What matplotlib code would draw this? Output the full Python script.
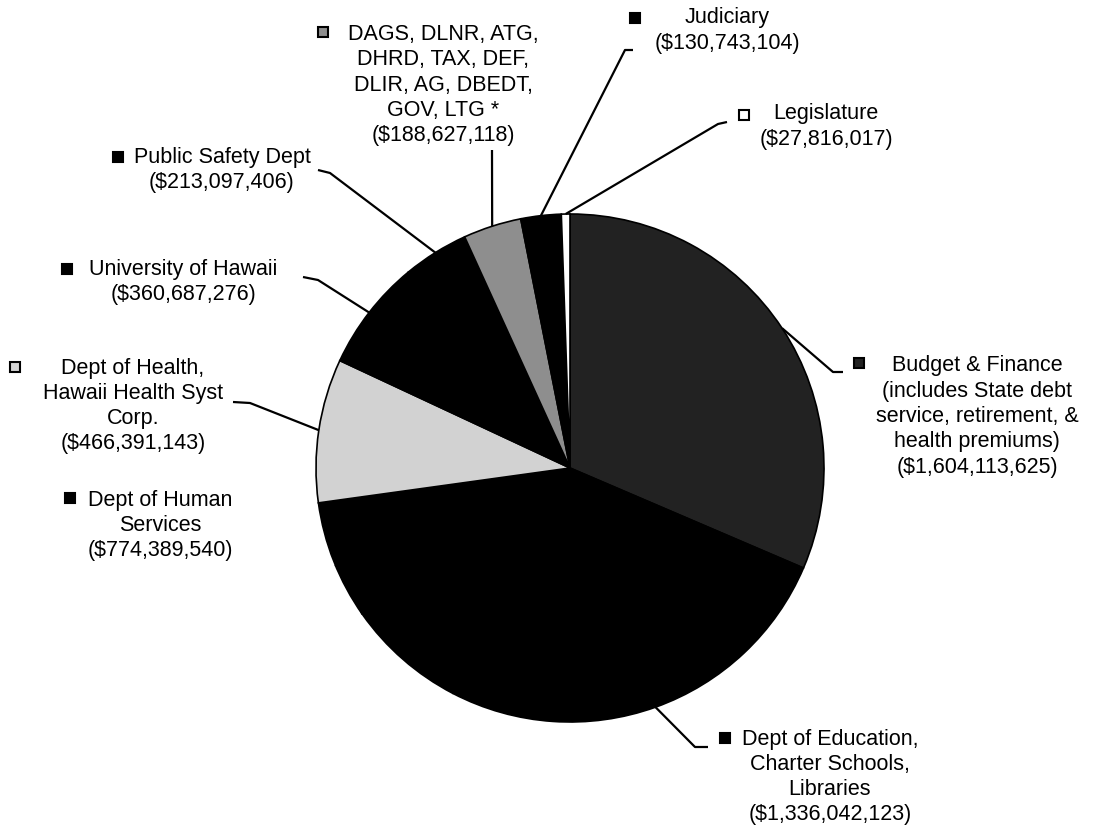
import matplotlib
matplotlib.use("Agg")
import matplotlib.pyplot as plt
import numpy as np

# ---- data ----
departments = [
    "Budget & Finance\n(includes State debt\nservice, retirement, &\nhealth premiums)",
    "Dept of Education,\nCharter Schools,\nLibraries",
    "Dept of Human\nServices",
    "Dept of Health,\nHawaii Health Syst\nCorp.",
    "University of Hawaii",
    "Public Safety Dept",
    "DAGS, DLNR, ATG,\nDHRD, TAX, DEF,\nDLIR, AG, DBEDT,\nGOV, LTG *",
    "Judiciary",
    "Legislature",
]
amounts = [1604113625, 1336042123, 774389540, 466391143, 360687276,
           213097406, 188627118, 130743104, 27816017]
colors = ["#222222", "#000000", "#000000", "#d2d2d2", "#000000",
          "#000000", "#8e8e8e", "#000000", "#ffffff"]

# ---- layout (pixel coordinates, y downwards) ----
W, H = 1113, 831
center = (570, 468)
radius = 254
# label block: (text center x, block center y), marker (x, y), leader elbow points
label_pos = [
    (977, 416.5), (830, 777), (160, 525.5), (133, 406), (183, 282),
    (222, 170), (443, 85), (727, 30.5), (826, 126.5),
]
marker_pos = [
    (859, 363), (725, 738), (70, 498), (15, 367), (67, 269),
    (118, 157), (323, 32), (635, 18), (744, 115),
]
leader_pts = [
    [(843, 372), (833, 372)],
    [(708, 747), (695, 747)],
    [(335, 565), (343, 570)],
    [(233, 402), (250, 403)],
    [(303, 277), (318, 280)],
    [(318, 170), (330, 173)],
    [(492, 150), (492, 152)],
    [(633, 50), (625, 50)],
    [(727, 122), (718, 124)],
]

fig = plt.figure(figsize=(W / 100, H / 100), dpi=100)
ax = fig.add_axes([0, 0, 1, 1])
wedges, _ = ax.pie(amounts, colors=colors, startangle=270, counterclock=True,
                   center=center, radius=radius,
                   wedgeprops=dict(edgecolor="black", linewidth=1.2))
ax.set_xlim(0, W)
ax.set_ylim(H, 0)
ax.set_aspect("auto")
ax.axis("off")

font = dict(family=["Liberation Sans", "DejaVu Sans"], fontsize=15.5)

for w, name, amt, (tx, ty), (mx, my), pts, c in zip(
        wedges, departments, amounts, label_pos, marker_pos, leader_pts, colors):
    text = name + "\n(${:,})".format(amt)
    ax.text(tx, ty, text, ha="center", va="center", linespacing=1.27,
            color="black", **font)
    ax.plot([mx], [my], marker="s", markersize=7.5, markerfacecolor=c,
            markeredgecolor="black", markeredgewidth=1.5, linestyle="none")
    # leader line to the wedge edge at its mid-angle
    mid = np.deg2rad((w.theta1 + w.theta2) / 2)
    ex = w.center[0] + w.r * np.cos(mid)
    ey = w.center[1] + w.r * np.sin(mid)
    xs = [p[0] for p in pts] + [ex]
    ys = [p[1] for p in pts] + [ey]
    ax.plot(xs, ys, color="black", linewidth=1.6, solid_capstyle="butt")

fig.savefig("out.png", dpi=100, facecolor="white")
